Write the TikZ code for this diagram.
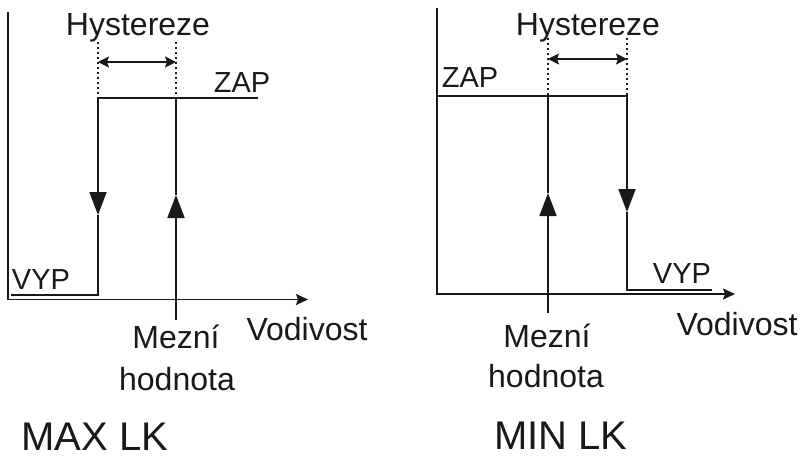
\documentclass[tikz,border=0pt]{standalone}
\usepackage{fontspec}
\setmainfont{Liberation Sans}
\usetikzlibrary{arrows.meta}

\begin{document}
\begin{tikzpicture}[x=1pt, y=-1pt,
			axis/.style={draw=black!90, line width=1.8pt, -{Stealth[length=12pt, width=11pt, inset=2pt]}},
			trace/.style={draw=black!90, line width=1.8pt},
			flow/.style={trace, -{Triangle[length=23pt, width=17pt]}},
			guide/.style={draw=black!90, line width=1.5pt, dash pattern=on 1.5pt off 3.5pt},
			span/.style={draw=black!90, line width=1.5pt,
				{Stealth[length=11pt, width=11pt, inset=2pt]}-{Stealth[length=11pt, width=11pt, inset=2pt]}},
			lbl/.style={font=\fontsize{32}{38}\selectfont, text=black!90, anchor=base, inner sep=0pt},
			lvl/.style={lbl, font=\fontsize{29}{34}\selectfont},
			title/.style={lbl, font=\fontsize{40}{48}\selectfont, text depth=0pt}
			]
			\useasboundingbox (0,0) rectangle (804,459);
			
			% MAX LK
			\coordinate (aTop) at (8,12);
			\coordinate (aO) at (8,299.5);
			\coordinate (aEnd) at (308,299.5);
			\coordinate (aOn) at (258,98);
			\coordinate (aOnL) at (98,98);
			\coordinate (aDn) at (98,215);
			\coordinate (aOffR) at (98,295);
			\coordinate (aOff) at (11,295);
			\coordinate (aLim) at (176,320);
			\coordinate (aUp) at (176,195);
			\coordinate (aLimT) at (176,98);
			\coordinate (aG1) at (98,42);
			\coordinate (aG2) at (176,42);
			\coordinate (aS1) at (98,62);
			\coordinate (aS2) at (176,62);
			
			\draw[axis] (aTop) -- (aO) -- (aEnd);
			\draw[flow] (aOn) -- (aOnL) -- (aDn);
			\draw[trace] (aDn) -- (aOffR) -- (aOff);
			\draw[flow] (aLim) -- (aUp);
			\draw[trace] (aUp) -- (aLimT);
			\draw[guide] (aG1) -- (aOnL);
			\draw[guide] (aG2) -- (aLimT);
			\draw[span] (aS1) -- (aS2);
			
			\node[lbl] (aHys) at (138,35) {Hystereze};
			\node[lvl] (aZap) at (242,92) {ZAP};
			\node[lvl] (aVyp) at (41,289) {VYP};
			\node[lbl] (aMez) at (176,348) {Mezní};
			\node[lbl] (aHod) at (177,390) {hodnota};
			\node[lbl] (aVod) at (307,340) {Vodivost};
			\node[title] (aTit) at (95,450) {MAX LK};
			
			% MIN LK
			\coordinate (bTop) at (437,8);
			\coordinate (bO) at (437,294);
			\coordinate (bEnd) at (735,294);
			\coordinate (bOn) at (437,96);
			\coordinate (bOnR) at (627,96);
			\coordinate (bDn) at (627,212);
			\coordinate (bOffL) at (627,290);
			\coordinate (bOff) at (712,290);
			\coordinate (bLim) at (548,313);
			\coordinate (bUp) at (548,193);
			\coordinate (bLimT) at (548,96);
			\coordinate (bG1) at (548,38);
			\coordinate (bG2) at (627,38);
			\coordinate (bS1) at (548,59);
			\coordinate (bS2) at (627,59);
			
			\draw[axis] (bTop) -- (bO) -- (bEnd);
			\draw[flow] (bOn) -- (bOnR) -- (bDn);
			\draw[trace] (bDn) -- (bOffL) -- (bOff);
			\draw[flow] (bLim) -- (bUp);
			\draw[trace] (bUp) -- (bLimT);
			\draw[guide] (bG1) -- (bLimT);
			\draw[guide] (bG2) -- (bOnR);
			\draw[span] (bS1) -- (bS2);
			
			\node[lbl] (bHys) at (588,35) {Hystereze};
			\node[lvl] (bZap) at (470,87) {ZAP};
			\node[lvl] (bVyp) at (682,283) {VYP};
			\node[lbl] (bMez) at (547,347) {Mezní};
			\node[lbl] (bHod) at (546,387) {hodnota};
			\node[lbl] (bVod) at (737,335) {Vodivost};
			\node[title] (bTit) at (561,449) {MIN LK};
		\end{tikzpicture}
\end{document}
